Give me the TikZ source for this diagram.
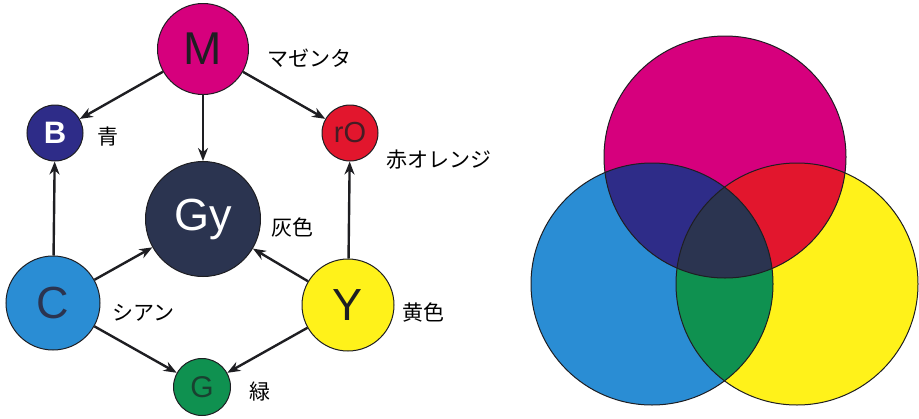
\documentclass[tikz,border=0pt]{standalone}
\usepackage{fontspec}
\setmainfont{Liberation Sans}
\newfontfamily\jp{Noto Sans CJK JP}
\usetikzlibrary{arrows.meta}
\definecolor{cM}{HTML}{D6007D}
\definecolor{cC}{HTML}{2A8DD4}
\definecolor{cY}{HTML}{FFF21A}
\definecolor{cB}{HTML}{2E2C88}
\definecolor{cR}{HTML}{E2162D}
\definecolor{cG}{HTML}{0F9150}
\definecolor{cK}{HTML}{2B3450}
\definecolor{ink}{HTML}{1E1E22}
\begin{document}
\begin{tikzpicture}[x=1pt,y=-1pt,
  ball/.style={circle,draw=ink,line width=1pt,inner sep=0pt},
  arr/.style={-{Stealth[length=13pt,width=10pt]},line width=2.4pt,draw=ink},
  lbl/.style={font=\jp\fontsize{21}{21}\selectfont,anchor=west,inner sep=0pt},
  ring/.style={draw=ink,line width=1pt}]
\useasboundingbox (0,0) rectangle (919,418);
% left graph
\node[ball,fill=cM,minimum size=91pt,font=\fontsize{46}{46}\selectfont,text=ink] (M) at (203,49) {M};
\node[ball,fill=cB,minimum size=56pt,font=\bfseries\fontsize{31}{31}\selectfont,text=white] (B) at (55,133) {B};
\node[ball,fill=cR,minimum size=56pt,font=\fontsize{29}{29}\selectfont,text=ink!80!cR] (rO) at (350,133) {rO};
\node[ball,fill=cK,minimum size=115pt,font=\fontsize{45}{45}\selectfont,text=white] (Gy) at (203,219) {Gy};
\node[ball,fill=cC,minimum size=94pt,font=\fontsize{45}{45}\selectfont,text=cK] (C) at (53,303) {C};
\node[ball,fill=cY,minimum size=92pt,font=\fontsize{45}{45}\selectfont,text=ink] (Y) at (348,305) {Y};
\node[ball,fill=cG,minimum size=57pt,font=\fontsize{30}{30}\selectfont,text=ink!70!cG] (G) at (202,387) {G};
\draw[arr] (M) -- (B);
\draw[arr] (M) -- (Gy);
\draw[arr] (M) -- (rO);
\draw[arr] (C) -- (B);
\draw[arr] (C) -- (Gy);
\draw[arr] (C) -- (G);
\draw[arr] (Y) -- (rO);
\draw[arr] (Y) -- (Gy);
\draw[arr] (Y) -- (G);
\node[lbl] (lM) at (267,58) {マゼンタ};
\node[lbl] (lB) at (97,137) {青};
\node[lbl] (lR) at (386,160) {赤オレンジ};
\node[lbl] (lK) at (271,227) {灰色};
\node[lbl] (lC) at (112,313) {シアン};
\node[lbl] (lY) at (402,313) {黄色};
\node[lbl] (lG) at (249,392) {緑};
% right diagram
\fill[cC] (652,284) circle (121);
\fill[cY] (797,284) circle (121);
\fill[cM] (725,157) circle (121);
\begin{scope}
  \clip (725,157) circle (121);
  \fill[cB] (652,284) circle (121);
  \fill[cR] (797,284) circle (121);
\end{scope}
\begin{scope}
  \clip (652,284) circle (121);
  \fill[cG] (797,284) circle (121);
  \clip (797,284) circle (121);
  \fill[cK] (725,157) circle (121);
\end{scope}
\draw[ring] (652,284) circle (121);
\draw[ring] (797,284) circle (121);
\draw[ring] (725,157) circle (121);
\end{tikzpicture}
\end{document}
